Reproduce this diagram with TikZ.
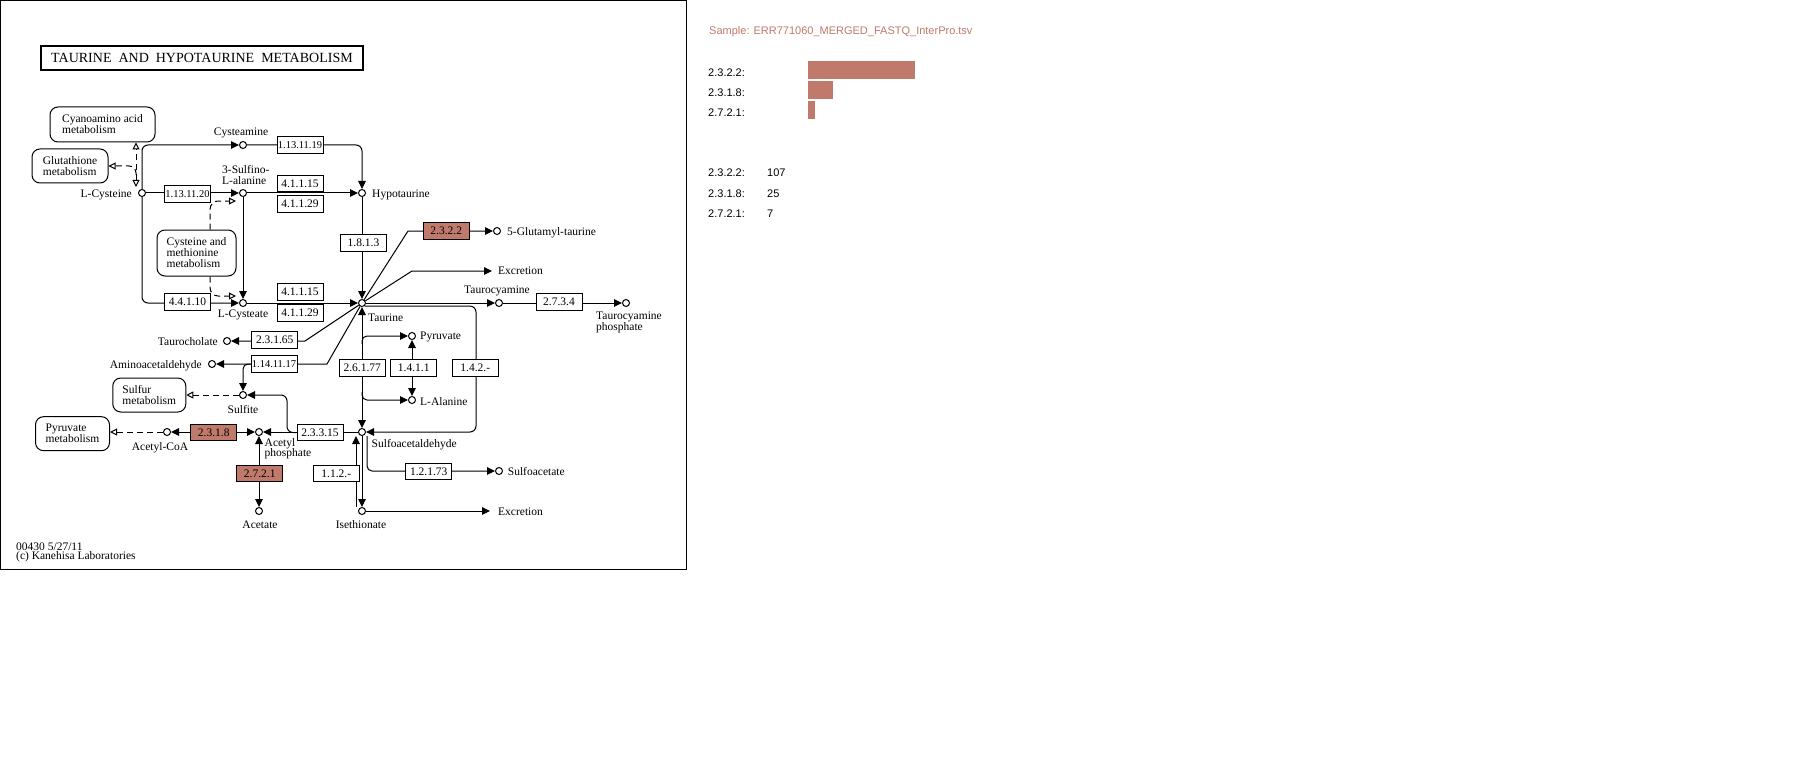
\documentclass[tikz,border=0pt]{standalone}
\usepackage{fontspec}
\setmainfont{Liberation Serif}
\newfontfamily\panelfont{Liberation Sans}
\usetikzlibrary{arrows.meta,backgrounds,calc}
\definecolor{hitc}{RGB}{192,122,107}
\begin{document}
\begin{tikzpicture}[x=1pt,y=-1pt,
  lbl/.style={font=\fontsize{11.5}{11}\selectfont, inner sep=0pt},
  met/.style={circle, draw, line width=1pt, fill=white, minimum size=7pt, inner sep=0pt},
  enz/.style={draw, line width=1pt, fill=white, minimum width=46pt, minimum height=16.5pt, inner sep=0pt, font=\fontsize{11.5}{11}\selectfont},
  enzs/.style={enz, font=\fontsize{10.5}{11}\selectfont},
  hit/.style={enz, fill=hitc},
  mapb/.style={draw, line width=1pt, rounded corners=8pt, fill=white, inner sep=0pt, align=left, font=\fontsize{11.5}{11}\selectfont},
  rx/.style={line width=1pt, -{Triangle[length=8pt,width=7.5pt]}},
  rxb/.style={line width=1pt, {Triangle[length=8pt,width=7.5pt]}-{Triangle[length=8pt,width=7.5pt]}},
  dsh/.style={line width=1pt, dash pattern=on 6pt off 4pt, -{Triangle[open,length=7pt,width=7pt]}},
  dshb/.style={line width=1pt, dash pattern=on 6pt off 4pt, {Triangle[open,length=7pt,width=7pt]}-{Triangle[open,length=7pt,width=7pt]}},
  ptxt/.style={font=\panelfont\fontsize{11}{13}\selectfont, inner sep=0pt, anchor=base west},
]
\useasboundingbox (0,0) rectangle (1795,770);
\draw[line width=1pt] (0.5,0.5) rectangle (686.5,569.5);

% title
\node[draw, line width=2pt, minimum width=322pt, minimum height=24pt, inner sep=0pt,
      font=\fontsize{14}{14}\selectfont] (title) at (202,58) {TAURINE\ \ AND\ \ HYPOTAURINE\ \ METABOLISM};

% map boxes
\node[mapb, minimum width=105pt, minimum height=35pt] (cyano) at (102.5,124.5) {Cyanoamino acid\\metabolism};
\node[mapb, minimum width=76pt, minimum height=34pt] (gluta) at (70,166) {Glutathione\\metabolism};
\node[mapb, minimum width=79pt, minimum height=46pt] (cysmet) at (196.5,253) {Cysteine and\\methionine\\metabolism};
\node[mapb, minimum width=73pt, minimum height=34pt] (sulfur) at (149.3,395) {Sulfur\\metabolism};
\node[mapb, minimum width=74pt, minimum height=34pt] (pyrmet) at (72.5,433.7) {Pyruvate\\metabolism};

% metabolites
\node[met] (lcys) at (142,193) {};
\node[met] (cysteamine) at (243,145) {};
\node[met] (sulfino) at (243,193) {};
\node[met] (hypo) at (362,193) {};
\node[met] (lcysteate) at (243,303) {};
\node[met] (taurine) at (362,303) {};
\node[met] (taurochol) at (227,341) {};
\node[met] (aminoac) at (212,364) {};
\node[met] (sulfite) at (243,395) {};
\node[met] (accoa) at (167,432) {};
\node[met] (acp) at (259,432) {};
\node[met] (sulfoald) at (362,432) {};
\node[met] (acetate) at (259,511) {};
\node[met] (iseth) at (362,511) {};
\node[met] (pyr) at (412,336) {};
\node[met] (lala) at (412,400) {};
\node[met] (glut) at (497,231) {};
\node[met] (tcy) at (499,303) {};
\node[met] (tcp) at (626,303) {};
\node[met] (sulfoac) at (499,471) {};

% metabolite labels
\node[lbl, anchor=base] (tcysteamine) at (241,136) {Cysteamine};
\node[lbl, anchor=base west, align=left] (tsulfino) at (222,185) {3-Sulfino-\\L-alanine};
\node[lbl, anchor=base east] (tlcys) at (132,197) {L-Cysteine};
\node[lbl, anchor=base west] (thypo) at (372,197.5) {Hypotaurine};
\node[lbl, anchor=base] (tlcysteate) at (243,317) {L-Cysteate};
\node[lbl, anchor=base west] (ttaurine) at (368,321) {Taurine};
\node[lbl, anchor=base west] (tglut) at (507,235) {5-Glutamyl-taurine};
\node[lbl, anchor=base west] (exc1) at (498,274) {Excretion};
\node[lbl, anchor=base] (ttcy) at (497,293) {Taurocyamine};
\node[lbl, anchor=base west, align=left] (ttcp) at (596,330) {Taurocyamine\\phosphate};
\node[lbl, anchor=base east] (ttaurochol) at (218,345) {Taurocholate};
\node[lbl, anchor=base east] (taminoac) at (202,368.5) {Aminoacetaldehyde};
\node[lbl, anchor=base] (tsulfite) at (243,413) {Sulfite};
\node[lbl, anchor=base] (taccoa) at (160,450) {Acetyl-CoA};
\node[lbl, anchor=base west, align=left, font=\fontsize{11.5}{10.5}\selectfont] (tacp) at (264.5,456.5) {Acetyl\\phosphate};
\node[lbl, anchor=base west] (tsulfoald) at (371.5,447) {Sulfoacetaldehyde};
\node[lbl, anchor=base] (tacetate) at (260,528) {Acetate};
\node[lbl, anchor=base] (tiseth) at (361,528) {Isethionate};
\node[lbl, anchor=base west] (tpyr) at (420,339.5) {Pyruvate};
\node[lbl, anchor=base west] (tlala) at (420,405) {L-Alanine};
\node[lbl, anchor=base west] (tsulfoac) at (507.7,475) {Sulfoacetate};
\node[lbl, anchor=base west] (exc2) at (498,515) {Excretion};

% enzymes
\node[enzs] (e1131119) at (300,145) {1.13.11.19};
\node[enzs] (e1131120) at (187.5,194) {1.13.11.20};
\node[enz] (e41115a) at (300,183.5) {4.1.1.15};
\node[enz] (e41129a) at (300,204) {4.1.1.29};
\node[enz] (e1813) at (363.5,243) {1.8.1.3};
\node[enz] (e4410) at (187.5,302) {4.4.1.10};
\node[enz] (e41115b) at (300,292) {4.1.1.15};
\node[enz] (e41129b) at (300,313) {4.1.1.29};
\node[enz] (e23165) at (274.7,340) {2.3.1.65};
\node[enzs] (e141117) at (274,364) {1.14.11.17};
\node[enz] (e23315) at (320,432.5) {2.3.3.15};
\node[hit] (e2318) at (213.7,432.5) {2.3.1.8};
\node[hit] (e2721) at (259.7,473.3) {2.7.2.1};
\node[enz] (e112) at (336.3,473.3) {1.1.2.-};
\node[enz] (e12173) at (428.7,471.5) {1.2.1.73};
\node[enz] (e26177) at (362.3,368) {2.6.1.77};
\node[enz] (e1411) at (413.7,368) {1.4.1.1};
\node[enz] (e142) at (475.3,368) {1.4.2.-};
\node[enz] (e2734) at (559,302) {2.7.3.4};
\node[hit] (e2322) at (446.3,231) {2.3.2.2};

% footer
\node[lbl, anchor=base west, align=left, font=\fontsize{11.5}{9}\selectfont] (credit) at (16,559) {00430 5/27/11\\(c) Kanehisa Laboratories};

% helper coordinates
\coordinate (k2322) at (408,231);
\coordinate (kexc) at (412,271);
\coordinate (k23165) at (305,341);
\coordinate (k141117) at (327,364);
\coordinate (kp1) at (362,344);
\coordinate (kp2) at (362,392);
\coordinate (k142) at (476,432);
\coordinate (ks) at (287,395);
\coordinate (dcy) at ([xshift=-6pt,yshift=2pt]lcys.north);
\coordinate (kcmt) at ($(cysmet.north west)!0.67!(cysmet.north east)$);
\coordinate (kcmb) at ($(cysmet.south west)!0.67!(cysmet.south east)$);

\begin{pgfonlayer}{background}
\fill[white] (0,0) rectangle (1795,770);
\draw[rx, rounded corners=6pt] (lcys.north) |- (cysteamine.west);
\draw[rx, rounded corners=6pt] (cysteamine.east) -| (hypo.north);
\draw[rx] (lcys.east) -- (sulfino.west);
\draw[rx] (sulfino.east) -- (hypo.west);
\draw[rx] (sulfino.south) -- (lcysteate.north);
\draw[rx, rounded corners=6pt] (lcys.south) |- (lcysteate.west);
\draw[rx] (lcysteate.east) -- (taurine.west);
\draw[rx] (hypo.south) -- (taurine.north);
\draw[rx] (taurine) -- (k2322) -- (glut.west);
\draw[rx] (taurine) -- (kexc) -- ($(kexc -| exc1.west)+(-6,0)$);
\draw[rx] (taurine.east) -- (tcy.west);
\draw[rx] (tcy.east) -- (tcp.west);
\draw[rx] (taurine) -- (k23165) -- (taurochol.east);
\draw[rx] (taurine) -- (k141117) -- (aminoac.east);
\draw[rx, rounded corners=5pt] (e141117.west) -| (sulfite.north);
\draw[rxb] (taurine.south) -- (sulfoald.north);
\draw[rx, rounded corners=5pt] (kp1) |- (pyr.west);
\draw[rx, rounded corners=5pt] (kp2) |- (lala.west);
\draw[rxb] (pyr.south) -- (lala.north);
\draw[rx, rounded corners=6pt] (taurine.-50) -| (k142) -- (sulfoald.east);
\draw[rx] (sulfoald.west) -- (acp.east);
\draw[rx, rounded corners=6pt] (e23315.west) -| (ks) -- (sulfite.east);
\draw[rxb] (acp.west) -- (accoa.east);
\draw[rxb] (acp.south) -- (acetate.north);
\draw[rx] (sulfoald.south) -- (iseth.north);
\draw[rx] ([xshift=-6pt]iseth.north) -- ([xshift=-6pt]sulfoald.south);
\draw[rx] (iseth.east) -- ($(iseth.east -| exc2.west)+(-8,0)$);
\draw[rx, rounded corners=5pt] ([xshift=5pt]sulfoald.south) |- (sulfoac.west);
% dashed map links
\draw[dsh] (accoa.west) -- (accoa.west -| pyrmet.east);
\draw[dsh] (sulfite.west) -- (sulfite.west -| sulfur.east);
\draw[dshb] (dcy) -- (dcy |- cyano.south);
\draw[dsh, rounded corners=7pt] ([yshift=12pt]dcy) |- (gluta.east);
\draw[dsh, rounded corners=8pt] (kcmt) |- ([xshift=-3pt,yshift=-8pt]sulfino.west);
\draw[dsh, rounded corners=8pt] (kcmb) |- ([xshift=-3pt,yshift=7pt]lcysteate.west);
\end{pgfonlayer}

% right panel
\node[ptxt, text=hitc] (sample) at (709,35) {Sample: ERR771060\_MERGED\_FASTQ\_InterPro.tsv};
\node[ptxt] (r1) at (708,77) {2.3.2.2:};
\node[ptxt] (r2) at (708,97) {2.3.1.8:};
\node[ptxt] (r3) at (708,117) {2.7.2.1:};
\fill[hitc] (808,61) rectangle (915,79);
\fill[hitc] (808,81) rectangle (833,99);
\fill[hitc] (808,101) rectangle (815,119);
\node[ptxt] (c1) at (708,177) {2.3.2.2:};
\node[ptxt] (c2) at (708,197) {2.3.1.8:};
\node[ptxt] (c3) at (708,217) {2.7.2.1:};
\node[ptxt] (v1) at (767,177) {107};
\node[ptxt] (v2) at (767,197) {25};
\node[ptxt] (v3) at (767,217) {7};
\end{tikzpicture}
\end{document}
